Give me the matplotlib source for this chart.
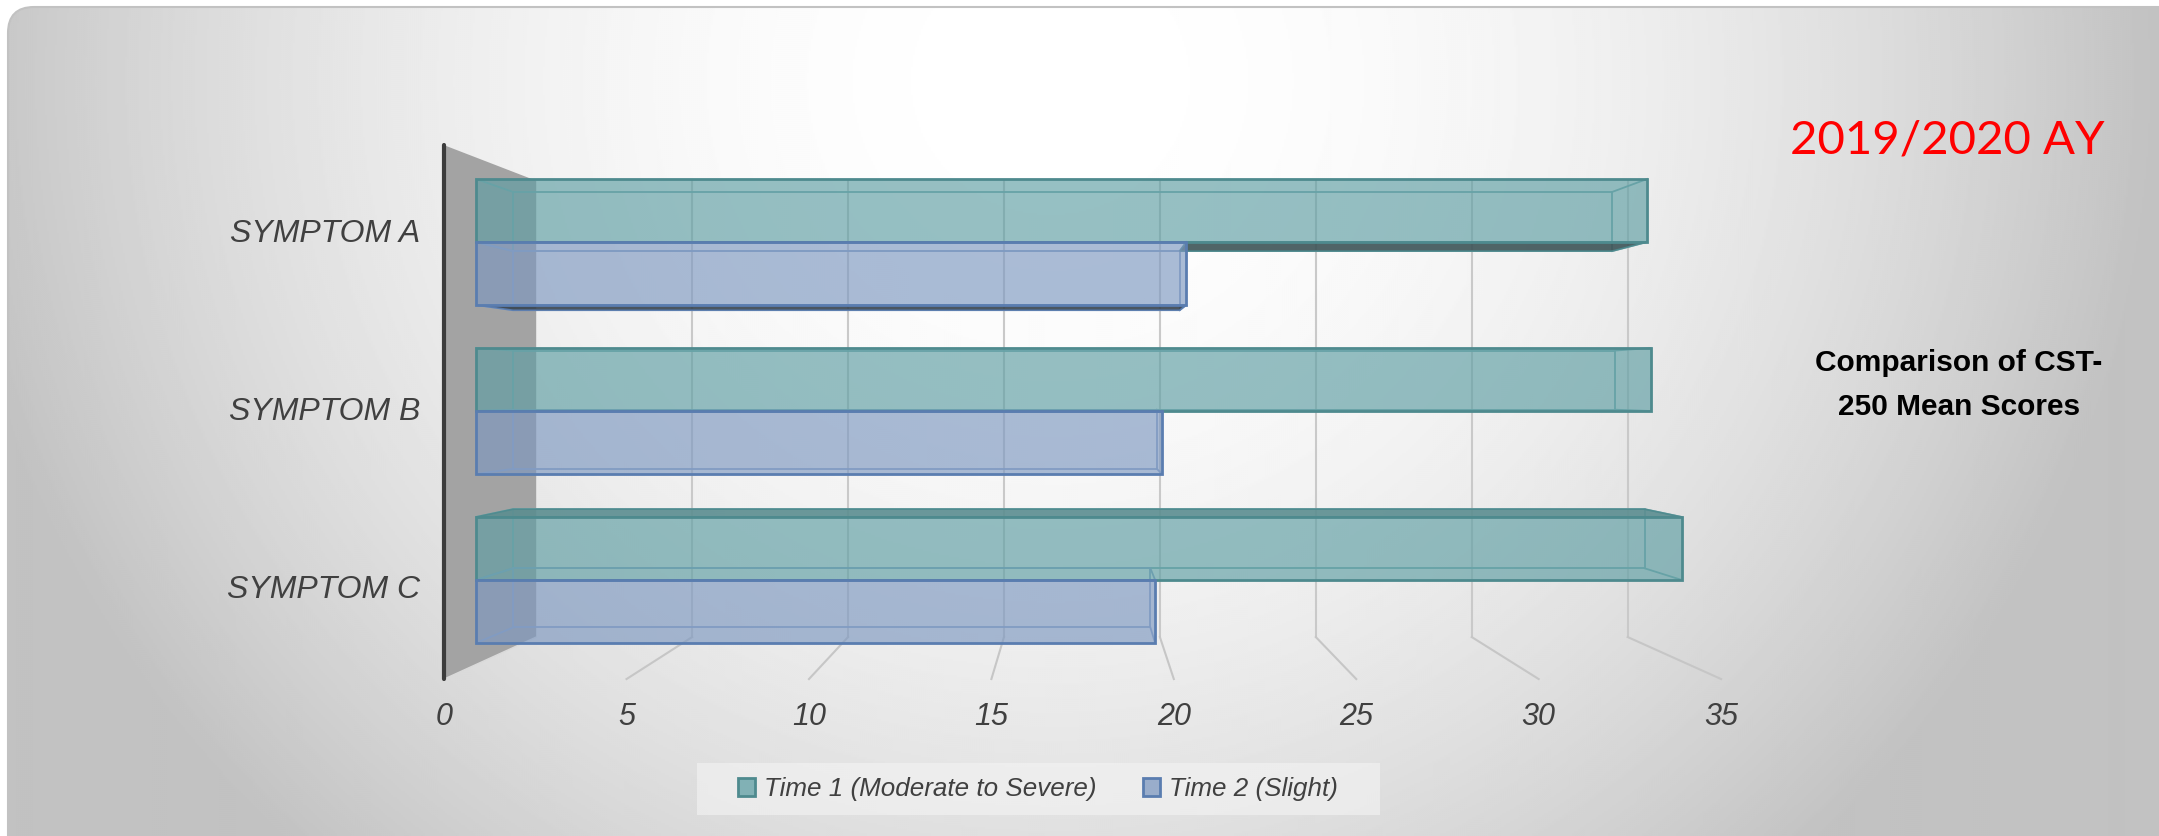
import numpy as np
import matplotlib.pyplot as plt
from matplotlib.colors import to_rgba
from matplotlib.patches import Polygon, FancyBboxPatch, Patch

plt.rcParams['font.family'] = ['Liberation Sans', 'DejaVu Sans']

# ---------------- data ----------------
categories = ['SYMPTOM A', 'SYMPTOM B', 'SYMPTOM C']
series = ['Time 1 (Moderate to Severe)', 'Time 2 (Slight)']
time1 = [33.8, 33.9, 34.8]
time2 = [20.5, 19.8, 19.6]
xticks = [0, 5, 10, 15, 20, 25, 30, 35]
year_text = '2019/2020 AY'
side_text = 'Comparison of CST-\n250 Mean Scores'

face_cols = ['#5e9ea3', '#7d98c0']
edge_cols = ['#4e8a8e', '#5a7db0']
inner_cols = ['#78aaae', '#8aa3c8']
bottom_cols = ['#3d5457', '#38444f']
top_cols = ['#5b8d90', '#6f86a8']
FACE_ALPHA = 0.65

W, H = 2159, 836
fig = plt.figure(figsize=(W / 100, H / 100), dpi=100)

# ---------------- background panel ----------------
bg = fig.add_axes([0, 0, 1, 1])
yy, xx = np.mgrid[0:H:2, 0:W:2]
rr2 = ((xx - 1050) / 1150) ** 2 + ((yy - 80) / 1100) ** 2
light = np.clip(1 - 0.26 * rr2, 0.76, 1)
panel = FancyBboxPatch((8, 7), W + 40, H + 40, boxstyle='round,pad=0,rounding_size=26',
                       fc='none', ec='#c2c2c2', lw=1.5, zorder=1)
bg.add_patch(panel)
im = bg.imshow(light, cmap='gray', vmin=0, vmax=1, extent=(0, W, H, 0),
               interpolation='bilinear', aspect='auto', zorder=0)
im.set_clip_path(panel)
# legend backing
bg.add_patch(FancyBboxPatch((697, 763), 683, 52, boxstyle='square,pad=0',
                            fc='#f4f4f4', ec='none', alpha=0.6, zorder=2))
bg.set_xlim(0, W)
bg.set_ylim(H, 0)
bg.axis('off')

# ---------------- 3d-looking bar chart ----------------
PX0, PXU = 476, 34.65   # pixel of value 0 / pixels per unit on the bar faces
PY0, PYU = 242, 169     # pixel of first category / pixels per category
ax = fig.add_axes([0, 0, 1, 1])
ax.patch.set_visible(False)
ax.set_xlim(-PX0 / PXU, (W - PX0) / PXU)
ax.set_ylim((H - PY0) / PYU, -PY0 / PYU)
ax.axis('off')

vp = np.array([(1078 - PX0) / PXU, (390 - PY0) / PYU])   # vanishing point
S_FRONT, S_BACK, S_WALL = 1.053, 0.9385, 0.900


def proj(v, k, s):
    return vp[0] + s * (v - vp[0]), vp[1] + s * (k - vp[1])


def seg(p, q, **kw):
    ax.plot([p[0], q[0]], [p[1], q[1]], **kw)


n = len(categories)
k_top, k_bot = -0.5, n - 0.5

# gridlines on back wall and floor
for v in xticks[1:]:
    seg(proj(v, k_top, S_WALL), proj(v, k_bot, S_WALL), color='#c9c9c9', lw=1.5, zorder=1)
    seg(proj(v, k_bot, S_WALL), proj(v, k_bot, S_FRONT), color='#c6c6c6', lw=1.5, zorder=1)

# side wall
wall = [proj(0, k_top, S_FRONT), proj(0, k_top, S_WALL),
        proj(0, k_bot, S_WALL), proj(0, k_bot, S_FRONT)]
ax.add_patch(Polygon(wall, closed=True, fc='#a3a3a3', ec='none', zorder=2))
seg(proj(0, k_bot, S_WALL), proj(0, k_bot, S_FRONT), color='#dadada', lw=1, zorder=2.5)
seg(proj(0, k_top, S_FRONT), proj(0, k_bot, S_FRONT), color='#3c3c3c', lw=3,
    solid_capstyle='round', zorder=3)

# bars
h = 0.373
pos = np.arange(n)
groups = [(time1, pos - h / 2), (time2, pos + h / 2)]
for i, (vals, yc) in enumerate(groups):
    other = groups[1 - i][0]
    ax.barh(yc, vals, height=h, left=0, color=to_rgba(face_cols[i], FACE_ALPHA),
            edgecolor=edge_cols[i], linewidth=2, zorder=6 + i)
    for j, v in enumerate(vals):
        k0, k1 = yc[j] - h / 2, yc[j] + h / 2
        back = [proj(0, k0, S_BACK), proj(v, k0, S_BACK), proj(v, k1, S_BACK), proj(0, k1, S_BACK)]
        ax.add_patch(Polygon(back, closed=True, fill=False, ec=inner_cols[i], lw=1.3, zorder=4))
        for vv in (0, v):
            for kk in (k0, k1):
                seg((vv, kk), proj(vv, kk, S_BACK), color=inner_cols[i], lw=1.3, zorder=4)
        # horizontal face seen from the camera height
        if k1 < vp[1]:
            kk, col = k1, bottom_cols[i]
            start = other[j] if i == 0 else 0
        elif k0 > vp[1]:
            kk, col = k0, top_cols[i]
            start = other[j] if i == 1 else 0
        else:
            continue
        if start >= v:
            continue
        face = [(start, kk), (v, kk), proj(v, kk, S_BACK), proj(start, kk, S_BACK)]
        ax.add_patch(Polygon(face, closed=True, fc=col, ec=edge_cols[i], lw=1.2,
                             alpha=0.9, zorder=5))

# axis labels
for v in xticks:
    x, y = proj(v, k_bot, S_FRONT)
    ax.text(x, y + 38 / PYU, str(v), ha='center', va='center', fontsize=22,
            style='italic', color='#404040')
for k, name in enumerate(categories):
    x, y = proj(0, k, S_FRONT)
    ax.text(x - 24 / PXU, y, name, ha='right', va='center', fontsize=23,
            style='italic', color='#404040')

# legend
handles = [Patch(fc=to_rgba(face_cols[i], 0.75), ec=edge_cols[i], lw=2) for i in range(2)]
fig.legend(handles, series, loc='center', bbox_to_anchor=(1038 / W, 1 - 789 / H),
           ncol=2, frameon=False, prop={'style': 'italic', 'size': 18.7},
           labelcolor='#404040', handlelength=0.65, handleheight=0.65,
           handletextpad=0.35, columnspacing=1.8)

# titles
fig.text(1947 / W, 1 - 141 / H, year_text, color='#ff0000', fontsize=34,
         family=['Lato', 'DejaVu Sans'], ha='center', va='center')
fig.text(1959 / W, 1 - 385 / H, side_text, fontsize=21.5, weight='bold',
         ha='center', va='center', linespacing=1.75)

fig.savefig('out.png', dpi=100)
